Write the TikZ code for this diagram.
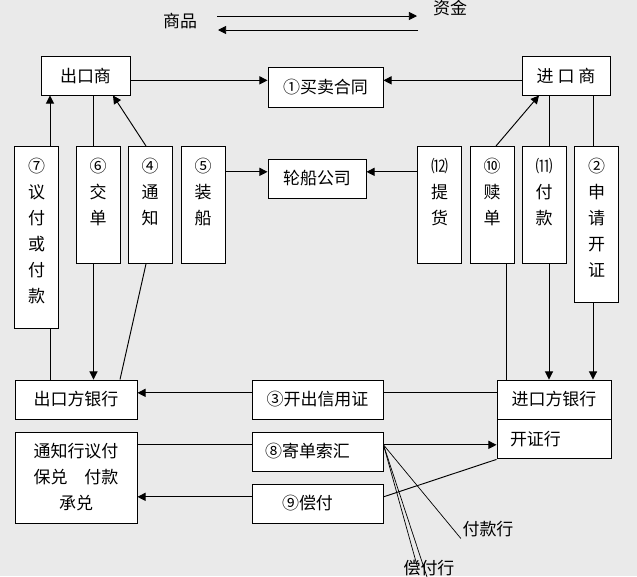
\documentclass[tikz,border=0pt]{standalone}
\usepackage{fontspec}
\setmainfont{Noto Sans CJK SC}
\usepackage{tikz}
\usetikzlibrary{positioning, arrows.meta}
\definecolor{bggray}{RGB}{234,234,234}

\begin{document}
\begin{tikzpicture}[x=0.03cm, y=-0.03cm, line width=0.8pt, >={Triangle[length=7pt,width=7pt]}]
        \tikzset{txt/.style={font=\fontsize{14.5}{22.2}\selectfont, inner sep=1pt},
                 box/.style={draw, fill=white, inner sep=0pt, align=center, font=\fontsize{14.5}{22.2}\selectfont},
                 col/.style={box, anchor=north, minimum width=1.32cm, minimum height=3.51cm,
                             label={[anchor=north, inner sep=0pt, yshift=-0.35cm, align=center, font=\fontsize{14.5}{22.2}\selectfont]north:#1}}}

        \fill[bggray] (0,0) rectangle (637,576);
        \useasboundingbox (0,0) rectangle (637,576);

        % legend
        \node[txt] (goods) at (180,21) {商品};
        \node[txt] (funds) at (450,8) {资金};
        \coordinate (g_a) at (217,16);
        \coordinate (g_b) at (417,16);
        \coordinate (f_a) at (418,30);
        \coordinate (f_b) at (218,30);
        \draw[->] (g_a) -- (g_b);
        \draw[->] (f_a) -- (f_b);

        % traders and contract
        \node[box, minimum width=2.67cm, minimum height=1.17cm] (ex) at (85.5,75.5) {出口商};
        \node[box, minimum width=3.45cm, minimum height=1.2cm] (con) at (325.5,87) {①买卖合同};
        \node[box, minimum width=2.64cm, minimum height=1.17cm] (im) at (566,75.5) {进 口 商};

        % steps
        \node[col={⑦\\议\\付\\或\\付\\款}, minimum height=5.46cm] (s_7) at (36.5,146) {};
        \node[col={⑥\\交\\单}] (s_6) at (98,146) {};
        \node[col={④\\通\\知}] (s_4) at (150,146) {};
        \node[col={⑤\\装\\船}] (s_5) at (203,146) {};
        \node[box, minimum width=2.94cm, minimum height=1.17cm] (ship) at (317,178.5) {轮船公司};
        \node[col={⑿\\提\\货}] (s_12) at (439.5,146) {};
        \node[col={⑩\\赎\\单}] (s_10) at (492,146) {};
        \node[col={⑾\\付\\款}] (s_11) at (544,146) {};
        \node[col={②\\申\\请\\开\\证}, minimum height=4.68cm] (s_2) at (596.5,146) {};

        % banks
        \node[box, minimum width=3.66cm, minimum height=1.17cm] (exbank) at (76,399.5) {出口方银行};
        \node[box, minimum width=3.93cm, minimum height=1.17cm] (lc) at (317.5,399.5) {③开出信用证};
        \node[box, minimum width=3.42cm, minimum height=1.17cm] (imbank) at (554,399.5) {进口方银行};
        \node[box, anchor=north, minimum height=1.17cm, text width=2.64cm, inner xsep=0.39cm, align=left] (issuer) at (imbank.south) {开证行};
        \node[box, minimum width=3.66cm, minimum height=2.73cm] (adv) at (76,477.5) {通知行议付\\保兑　付款\\承兑};
        \node[box, minimum width=3.93cm, minimum height=1.17cm] (send) at (317.5,451.5) {⑧寄单索汇\kern0.6cm};
        \node[box, minimum width=3.93cm, minimum height=1.17cm] (pay) at (317.5,503.5) {⑨偿付\kern0.6cm};
        \node[txt] (pb) at (488,529) {付款行};
        \node[txt] (rb) at (429,568) {偿付行};
        \coordinate (r_a) at (418,569);
        \coordinate (r_b) at (427,577);

        % contract
        \draw[->] ([yshift=2mm]con.west -| ex.east) -- ([yshift=2mm]con.west);
        \draw[->] ([yshift=2mm]con.east -| im.west) -- ([yshift=2mm]con.east);

        % exporter side
        \draw[->] ([xshift=0.405cm]s_7.north) -- ([xshift=0.405cm]s_7.north |- ex.south);
        \draw ([xshift=0.405cm]s_7.south) -- ([xshift=0.405cm]s_7.south |- exbank.north);
        \draw ([xshift=-0.135cm]s_6.north) -- ([xshift=-0.135cm]s_6.north |- ex.south);
        \draw[->] ([xshift=-0.135cm]s_6.south) -- ([xshift=-0.135cm]s_6.south |- exbank.north);
        \draw[->] ([xshift=-0.12cm]s_4.north) -- ([xshift=0.825cm]ex.south);
        \draw ([xshift=-0.12cm]s_4.south) -- ([xshift=1.32cm]exbank.north);

        % shipping
        \draw[->] ([yshift=2mm]ship.west -| s_5.east) -- ([yshift=2mm]ship.west);
        \draw[->] ([yshift=2mm]ship.east -| s_12.west) -- ([yshift=2mm]ship.east);

        % importer side
        \draw[->] ([xshift=0.12cm]s_10.north) -- ([xshift=-0.81cm]im.south);
        \draw ([xshift=0.42cm]s_10.south) -- ([xshift=0.42cm]s_10.south |- imbank.north);
        \draw ([xshift=0.15cm]s_11.north) -- ([xshift=0.15cm]s_11.north |- im.south);
        \draw[->] ([xshift=0.15cm]s_11.south) -- ([xshift=0.15cm]s_11.south |- imbank.north);
        \draw ([xshift=-0.105cm]s_2.north) -- ([xshift=-0.105cm]s_2.north |- im.south);
        \draw[->] ([xshift=-0.105cm]s_2.south) -- ([xshift=-0.105cm]s_2.south |- imbank.north);

        % between the banks
        \draw ([yshift=2mm]lc.east) -- ([yshift=2mm]lc.east -| imbank.west);
        \draw[->] ([yshift=2mm]lc.west) -- ([yshift=2mm]lc.west -| exbank.east);
        \draw ([yshift=2mm]send.west -| adv.east) -- ([yshift=2mm]send.west);
        \draw[->] ([yshift=2mm]send.east) -- ([yshift=2mm]send.east -| issuer.west);
        \draw (issuer.south west) -- ([yshift=2mm]pay.east);
        \draw[->] ([yshift=2mm]pay.west) -- ([yshift=2mm]pay.west -| adv.east);
        \draw[line width=0.6pt] ([yshift=2mm]send.east) -- (pb.south west);
        \draw[line width=0.6pt] ([yshift=2mm]send.east) -- (r_a);
        \draw[line width=0.6pt] ([yshift=2mm]send.east) -- (r_b);
\end{tikzpicture}
\end{document}
